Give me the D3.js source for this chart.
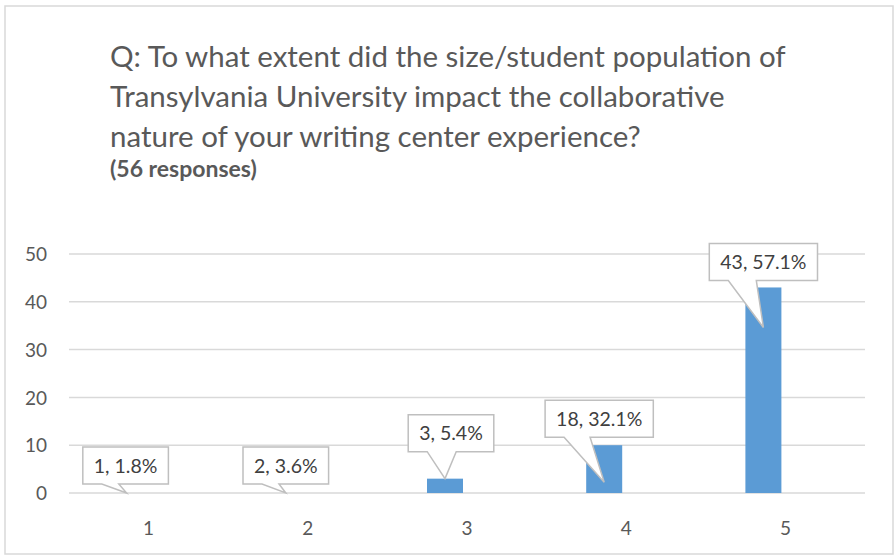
<!DOCTYPE html>
<html>
<head>
<meta charset="utf-8">
<script src="https://cdn.jsdelivr.net/npm/d3@7"></script>
<style>
  body { margin: 0; background: #fff; }
  text { font-family: Lato, "Liberation Sans", sans-serif; }
</style>
</head>
<body>
<div id="chart"></div>
<script>
var categories = ["1", "2", "3", "4", "5"];
var values = [0, 0, 3, 10, 43];
var labels = ["1, 1.8%", "2, 3.6%", "3, 5.4%", "18, 32.1%", "43, 57.1%"];
var yTicks = [0, 10, 20, 30, 40, 50];
var titleLines = [
  "Q: To what extent did the size/student population of",
  "Transylvania University impact the collaborative",
  "nature of your writing center experience?"
];
var subtitle = "(56 responses)";

// callout placement, dragged by hand in the original
var callouts = [
  {dx: -1, rise: 9, drop: 0, base: 17},
  {dx: 0, rise: 9, drop: 0, base: 17},
  {dx: 6, rise: 27, drop: 0, base: 29},
  {dx: -5, rise: 45, drop: 37, base: 26},
  {dx: 0, rise: 47, drop: 40, base: 28}
];

var width = 894, height = 555;
var margin = {left: 69, right: 29, top: 254, bottom: 62};

var svg = d3.select("#chart").append("svg")
  .attr("width", width)
  .attr("height", height);

svg.append("rect")
  .attr("x", 5).attr("y", 6)
  .attr("width", 888).attr("height", 548)
  .attr("fill", "#fff")
  .attr("stroke", "#d9d9d9")
  .attr("stroke-width", 1.5);

// title
var title = svg.append("g");
title.selectAll("text")
  .data(titleLines)
  .enter()
  .append("text")
  .attr("x", 110)
  .attr("y", function(d, i) { return 67 + i * 40; })
  .attr("fill", "#595959")
  .style("font-size", "27px")
  .text(function(d) { return d; });

var w0 = title.select("text").node().getComputedTextLength();
title.selectAll("text").style("font-size", (27 * 676 / w0) + "px");

var sub = svg.append("text")
  .attr("x", 110)
  .attr("y", 177)
  .attr("fill", "#595959")
  .style("font-size", "20px")
  .style("font-weight", "bold")
  .text(subtitle);
var w1 = sub.node().getComputedTextLength();
sub.style("font-size", Math.min(23, 20 * 158 / w1) + "px");

var x = d3.scaleBand()
  .domain(categories)
  .range([margin.left, width - margin.right]);

var y = d3.scaleLinear()
  .domain([0, 50])
  .range([height - margin.bottom, margin.top]);

// gridlines
svg.append("g")
  .selectAll("line")
  .data(yTicks)
  .enter()
  .append("line")
  .attr("x1", margin.left)
  .attr("x2", width - margin.right)
  .attr("y1", function(d) { return y(d); })
  .attr("y2", function(d) { return y(d); })
  .attr("stroke", "#d9d9d9")
  .attr("stroke-width", 1.5);

var yAxis = svg.append("g")
  .attr("transform", "translate(" + 47 + ",0)")
  .call(d3.axisLeft(y).tickValues(yTicks).tickSize(0).tickPadding(0));
yAxis.select(".domain").remove();
yAxis.selectAll("text")
  .attr("fill", "#595959")
  .attr("dy", "0.35em")
  .style("font-size", "19px")
  .style("font-family", "Lato, sans-serif");

var xAxis = svg.append("g")
  .attr("transform", "translate(0," + y(0) + ")")
  .call(d3.axisBottom(x).tickSize(0).tickPadding(0));
xAxis.select(".domain").remove();
xAxis.selectAll("text")
  .attr("fill", "#595959")
  .attr("y", 42)
  .attr("dy", 0)
  .style("font-size", "19px")
  .style("font-family", "Lato, sans-serif");

// bars sit left of the category centre (empty second series slot)
var barW = 36, barShift = -22;
function barCenter(i) { return x(categories[i]) + x.bandwidth() / 2 + barShift; }

svg.append("g")
  .selectAll("rect")
  .data(values)
  .enter()
  .append("rect")
  .attr("x", function(d, i) { return barCenter(i) - barW / 2; })
  .attr("y", function(d) { return y(d); })
  .attr("width", barW)
  .attr("height", function(d) { return y(0) - y(d); })
  .attr("fill", "#5b9bd5");

// callout labels
var boxH = 37, padX = 11;
var cg = svg.append("g")
  .selectAll("g")
  .data(labels)
  .enter()
  .append("g");

cg.each(function(d, i) {
  var g = d3.select(this);
  var c = callouts[i];
  var tipX = barCenter(i);
  var tipY = y(values[i]) + c.drop;
  var t = g.append("text")
    .attr("text-anchor", "middle")
    .attr("fill", "#404040")
    .style("font-size", "19.5px")
    .text(d);
  var tw = t.node().getComputedTextLength();
  var bw = tw + padX * 2;
  var cx = tipX + c.dx;
  var left = cx - bw / 2;
  var bottom = tipY - c.rise;
  var top = bottom - boxH;
  var b0 = left + 19, b1 = b0 + c.base;
  var path = "M" + left + "," + top +
    "H" + (left + bw) + "V" + bottom +
    "H" + b1 + "L" + tipX + "," + tipY +
    "L" + b0 + "," + bottom + "H" + left + "Z";
  g.insert("path", "text")
    .attr("d", path)
    .attr("fill", "#fff")
    .attr("stroke", "#bfbfbf")
    .attr("stroke-width", 1.5);
  t.attr("x", cx).attr("y", top + boxH / 2 + 7);
});
</script>
</body>
</html>
